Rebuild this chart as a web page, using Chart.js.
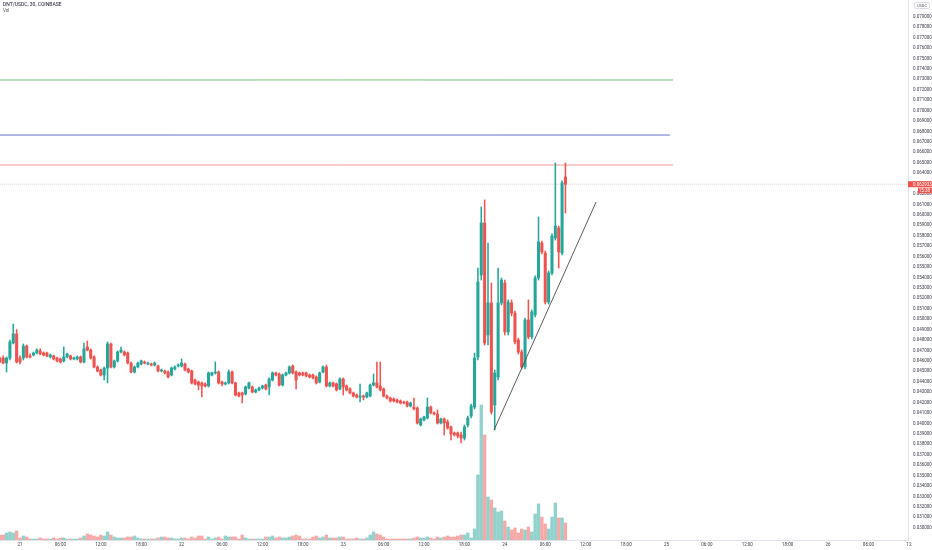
<!DOCTYPE html>
<html>
<head>
<meta charset="utf-8">
<title>DNT/USDC, 30, COINBASE</title>
<script src="https://cdn.jsdelivr.net/npm/chart.js@4.4.1/dist/chart.umd.min.js"></script>
<style>
  html, body { margin: 0; padding: 0; background: #ffffff; }
  #wrap { position: relative; width: 932px; height: 550px; }
</style>
</head>
<body>
<div id="wrap"><canvas id="chart"></canvas></div>
<script>
// 30 minute bars, bar 0 = 21st 00:00, first bar shown is -6 (20th 21:00)
const firstBar = -6;

const opens = [
  0.04627, 0.04627, 0.04579, 0.04627, 0.04771, 0.04858,
  0.04627, 0.04627, 0.04742, 0.04647, 0.04656, 0.04675, 0.04695, 0.04675, 0.04675, 0.04637,
  0.04647, 0.04627, 0.04618, 0.04599, 0.04637, 0.04647, 0.04618, 0.04618, 0.04637, 0.04589,
  0.04733, 0.04704, 0.04637, 0.04541, 0.04512, 0.04464, 0.04531, 0.04762, 0.04541, 0.04599,
  0.04685, 0.04685, 0.04675, 0.04579, 0.04493, 0.04541, 0.04570, 0.04589, 0.04570, 0.04570,
  0.04560, 0.04551, 0.04503, 0.04503, 0.04493, 0.04464, 0.04522, 0.04551, 0.04551, 0.04570,
  0.04522, 0.04503, 0.04416, 0.04397, 0.04388, 0.04378, 0.04359, 0.04464, 0.04484, 0.04493,
  0.04397, 0.04378, 0.04388, 0.04493, 0.04388, 0.04292, 0.04292, 0.04282, 0.04340, 0.04349,
  0.04301, 0.04321, 0.04340, 0.04368, 0.04349, 0.04416, 0.04484, 0.04474, 0.04368, 0.04464,
  0.04484, 0.04551, 0.04493, 0.04484, 0.04484, 0.04484, 0.04464, 0.04464, 0.04445, 0.04397,
  0.04493, 0.04541, 0.04359, 0.04388, 0.04378, 0.04330, 0.04426, 0.04359, 0.04330, 0.04292,
  0.04273, 0.04253, 0.04263, 0.04253, 0.04263, 0.04368, 0.04388, 0.04359, 0.04330, 0.04263,
  0.04244, 0.04234, 0.04225, 0.04215, 0.04205, 0.04205, 0.04167, 0.04157, 0.04148, 0.03985,
  0.04033, 0.04052, 0.04157, 0.04100, 0.04090, 0.04004, 0.04042, 0.04014, 0.03966, 0.03908,
  0.03908, 0.03889, 0.03860, 0.03985, 0.04071, 0.04157, 0.04637, 0.05423, 0.05922, 0.04848,
  0.05155, 0.04177, 0.04445, 0.05155, 0.05347, 0.04877, 0.05155, 0.05059, 0.04800, 0.04685,
  0.04541, 0.04992, 0.04829, 0.05040, 0.05395, 0.05730, 0.05634, 0.05164, 0.05443, 0.05778,
  0.05874, 0.05634, 0.06363
];

const highs = [
  0.04637, 0.04647, 0.04637, 0.04800, 0.04953, 0.04900,
  0.04647, 0.04762, 0.04752, 0.04666, 0.04685, 0.04714, 0.04714, 0.04685, 0.04685, 0.04666,
  0.04656, 0.04637, 0.04627, 0.04733, 0.04675, 0.04656, 0.04637, 0.04647, 0.04647, 0.04771,
  0.04790, 0.04714, 0.04647, 0.04551, 0.04522, 0.04541, 0.04781, 0.04771, 0.04608, 0.04695,
  0.04733, 0.04695, 0.04685, 0.04589, 0.04551, 0.04589, 0.04608, 0.04599, 0.04589, 0.04579,
  0.04589, 0.04560, 0.04522, 0.04512, 0.04503, 0.04541, 0.04551, 0.04570, 0.04618, 0.04579,
  0.04531, 0.04512, 0.04426, 0.04407, 0.04397, 0.04388, 0.04493, 0.04493, 0.04589, 0.04503,
  0.04407, 0.04397, 0.04512, 0.04503, 0.04397, 0.04301, 0.04301, 0.04359, 0.04397, 0.04359,
  0.04330, 0.04349, 0.04368, 0.04378, 0.04436, 0.04493, 0.04493, 0.04484, 0.04474, 0.04493,
  0.04551, 0.04560, 0.04503, 0.04493, 0.04493, 0.04493, 0.04474, 0.04474, 0.04455, 0.04493,
  0.04551, 0.04560, 0.04397, 0.04397, 0.04388, 0.04436, 0.04436, 0.04368, 0.04340, 0.04301,
  0.04282, 0.04378, 0.04273, 0.04301, 0.04378, 0.04474, 0.04589, 0.04589, 0.04340, 0.04273,
  0.04253, 0.04244, 0.04234, 0.04225, 0.04215, 0.04215, 0.04205, 0.04244, 0.04157, 0.04052,
  0.04071, 0.04244, 0.04167, 0.04110, 0.04129, 0.04052, 0.04052, 0.04033, 0.03975, 0.03918,
  0.03918, 0.03918, 0.03985, 0.04071, 0.04186, 0.04675, 0.05490, 0.06076, 0.06143, 0.05730,
  0.05347, 0.04512, 0.05490, 0.05395, 0.05375, 0.05184, 0.05184, 0.05078, 0.04819, 0.04704,
  0.05011, 0.05184, 0.05088, 0.05414, 0.05980, 0.05749, 0.05654, 0.05462, 0.05817, 0.06497,
  0.05893, 0.06325, 0.06497
];

const lows = [
  0.04579, 0.04570, 0.04493, 0.04608, 0.04762, 0.04579,
  0.04570, 0.04608, 0.04627, 0.04627, 0.04647, 0.04666, 0.04656, 0.04647, 0.04637, 0.04627,
  0.04608, 0.04589, 0.04579, 0.04589, 0.04627, 0.04608, 0.04608, 0.04608, 0.04579, 0.04579,
  0.04695, 0.04618, 0.04531, 0.04493, 0.04455, 0.04416, 0.04388, 0.04531, 0.04531, 0.04589,
  0.04675, 0.04647, 0.04570, 0.04484, 0.04484, 0.04531, 0.04560, 0.04570, 0.04560, 0.04551,
  0.04551, 0.04493, 0.04493, 0.04474, 0.04436, 0.04455, 0.04512, 0.04541, 0.04541, 0.04503,
  0.04484, 0.04378, 0.04368, 0.04321, 0.04253, 0.04349, 0.04349, 0.04455, 0.04474, 0.04378,
  0.04359, 0.04368, 0.04378, 0.04378, 0.04263, 0.04253, 0.04196, 0.04273, 0.04330, 0.04292,
  0.04292, 0.04311, 0.04330, 0.04321, 0.04273, 0.04407, 0.04455, 0.04359, 0.04359, 0.04455,
  0.04474, 0.04474, 0.04330, 0.04455, 0.04455, 0.04445, 0.04436, 0.04426, 0.04378, 0.04388,
  0.04484, 0.04349, 0.04349, 0.04349, 0.04311, 0.04321, 0.04273, 0.04311, 0.04282, 0.04253,
  0.04244, 0.04205, 0.04225, 0.04244, 0.04253, 0.04359, 0.04340, 0.04311, 0.04253, 0.04234,
  0.04205, 0.04205, 0.04196, 0.04186, 0.04186, 0.04157, 0.04157, 0.04129, 0.03994, 0.03975,
  0.04023, 0.04042, 0.04090, 0.04081, 0.03994, 0.03994, 0.03889, 0.03946, 0.03841, 0.03879,
  0.03860, 0.03812, 0.03841, 0.03966, 0.04052, 0.04138, 0.04608, 0.05375, 0.04752, 0.04752,
  0.04090, 0.03937, 0.04416, 0.05136, 0.04848, 0.04848, 0.05030, 0.04762, 0.04666, 0.04522,
  0.04522, 0.04810, 0.04810, 0.05021, 0.05375, 0.05625, 0.05145, 0.05145, 0.05423, 0.05759,
  0.05490, 0.05615, 0.06018
];

const closes = [
  0.04589, 0.04579, 0.04627, 0.04781, 0.04858, 0.04589,
  0.04589, 0.04742, 0.04637, 0.04637, 0.04675, 0.04704, 0.04666, 0.04656, 0.04647, 0.04656,
  0.04618, 0.04599, 0.04589, 0.04637, 0.04666, 0.04618, 0.04627, 0.04637, 0.04589, 0.04714,
  0.04704, 0.04627, 0.04541, 0.04503, 0.04464, 0.04531, 0.04762, 0.04541, 0.04599, 0.04685,
  0.04704, 0.04656, 0.04579, 0.04493, 0.04541, 0.04579, 0.04599, 0.04579, 0.04579, 0.04560,
  0.04579, 0.04503, 0.04512, 0.04484, 0.04445, 0.04531, 0.04541, 0.04560, 0.04579, 0.04512,
  0.04493, 0.04388, 0.04378, 0.04368, 0.04359, 0.04359, 0.04484, 0.04484, 0.04493, 0.04388,
  0.04378, 0.04388, 0.04493, 0.04388, 0.04273, 0.04263, 0.04273, 0.04349, 0.04388, 0.04301,
  0.04321, 0.04340, 0.04359, 0.04330, 0.04426, 0.04484, 0.04464, 0.04368, 0.04464, 0.04484,
  0.04541, 0.04484, 0.04416, 0.04464, 0.04464, 0.04455, 0.04445, 0.04436, 0.04388, 0.04484,
  0.04541, 0.04359, 0.04388, 0.04359, 0.04321, 0.04426, 0.04349, 0.04321, 0.04292, 0.04263,
  0.04253, 0.04263, 0.04253, 0.04292, 0.04368, 0.04388, 0.04349, 0.04321, 0.04263, 0.04244,
  0.04215, 0.04215, 0.04205, 0.04196, 0.04196, 0.04167, 0.04196, 0.04138, 0.04004, 0.04042,
  0.04062, 0.04157, 0.04100, 0.04090, 0.04004, 0.04042, 0.04004, 0.03956, 0.03899, 0.03889,
  0.03879, 0.03860, 0.03966, 0.04052, 0.04167, 0.04627, 0.05356, 0.05922, 0.04771, 0.05155,
  0.04110, 0.04484, 0.05155, 0.05375, 0.04877, 0.05164, 0.05059, 0.04781, 0.04685, 0.04541,
  0.04992, 0.04829, 0.05069, 0.05395, 0.05740, 0.05644, 0.05164, 0.05443, 0.05797, 0.05893,
  0.05644, 0.06306, 0.062933
];

// volume in thousands of DNT (relative heights)
const volumes = [
  5, 5, 7, 8, 7, 9,
  2, 4, 3, 1, 1, 1, 2, 1, 1, 1, 2,
  1, 2, 2, 1, 1, 1, 1, 2, 4, 6,
  5, 4, 3, 5, 4, 8, 5, 3, 2, 2,
  2, 3, 3, 4, 2, 1, 1, 1, 1, 1, 2,
  3, 3, 2, 2, 1, 1, 2, 2, 1, 3, 2, 4, 4, 1,
  3, 1, 2, 3, 1, 4, 3, 3, 3, 1, 5, 2, 1, 1, 1,
  1, 1, 3, 3, 4, 2, 3, 2, 2, 3, 4, 5, 4, 1, 1, 1, 3, 4, 2,
  3, 5, 2, 2, 2, 3, 3, 1, 1, 1, 2, 1, 1, 2, 5,
  8, 6, 5, 3, 1, 1, 1, 1, 1, 1, 1, 1, 2, 3,
  2, 2, 3, 2, 1, 3, 2, 3, 4, 3, 3, 4,
  5, 5, 7, 2, 11, 65, 135, 105, 43, 40, 32, 28, 29, 19, 13, 10,
  12, 7, 11, 10, 13, 8, 26, 36, 23, 16, 11, 23, 37, 22, 22, 17
];

// time axis: bar index of each label
const timeTickIdx = [0, 12, 24, 36, 48, 60, 72, 84, 96, 108, 120, 132,
  144, 156, 168, 180, 192, 204, 216, 228, 240, 252, 264];
const timeTickLabels = ['21', '06:00', '12:00', '18:00', '22', '06:00', '12:00', '18:00',
  '23', '06:00', '12:00', '18:00', '24', '06:00', '12:00', '18:00',
  '25', '06:00', '12:00', '18:00', '26', '06:00', '12'];

const priceTicks = [
  0.030, 0.031, 0.032, 0.033, 0.034, 0.035, 0.036, 0.037, 0.038, 0.039,
  0.040, 0.041, 0.042, 0.043, 0.044, 0.045, 0.046, 0.047, 0.048, 0.049,
  0.050, 0.051, 0.052, 0.053, 0.054, 0.055, 0.056, 0.057, 0.058, 0.059,
  0.060, 0.061, 0.062, 0.063, 0.064, 0.065, 0.066, 0.067, 0.068, 0.069,
  0.070, 0.071, 0.072, 0.073, 0.074, 0.075, 0.076, 0.077, 0.078, 0.079
];

// drawn horizontal levels (price, last bar they reach)
const levelPrices = [0.07293, 0.06765, 0.06478];
const levelEnds = [194, 193, 194];
const levelColors = ['#72c57a', '#6570cc', '#f19a9a'];

// rising trend line drawn under the lows
const trendX = [140.8, 171.1];
const trendY = [0.03937, 0.06123];

const lastPrice = '0.062933';
const countdown = '15:38';

const UP = '#26a69a';
const DOWN = '#ef5350';
const UP_VOL = 'rgba(38, 166, 154, 0.5)';
const DOWN_VOL = 'rgba(239, 83, 80, 0.5)';
const FONT = 'Roboto, "Noto Sans", sans-serif';
const TEXT = '#3e414b';

// Build datasets from the arrays
const barX = opens.map((o, k) => firstBar + k);
const isUp = closes.map((c, k) => c >= opens[k]);
const bodies = opens.map((o, k) => ({ x: barX[k], y: [o, closes[k]] }));
const wicks = highs.map((h, k) => ({ x: barX[k], y: [lows[k], h] }));
const vols = volumes.map((v, k) => ({ x: barX[k], y: v }));
const candleColors = isUp.map(u => u ? UP : DOWN);
const volColors = isUp.map(u => u ? UP_VOL : DOWN_VOL);

const levelSets = levelPrices.map((p, k) => ({
    type: 'line',
    data: [{ x: firstBar, y: p }, { x: levelEnds[k], y: p }],
    borderColor: levelColors[k],
    borderWidth: 1,
    pointRadius: 0,
    order: 2
}));

const lastClose = closes[closes.length - 1];

// Text overlays: symbol title, currency box and last price badge
const overlay = {
    id: 'overlay',
    afterDraw(chart) {
        const ctx = chart.ctx;
        const yScale = chart.scales.y;
        const area = chart.chartArea;
        ctx.save();
        ctx.textBaseline = 'middle';
        ctx.textAlign = 'left';
        ctx.fillStyle = '#131722';
        ctx.font = '5px ' + FONT;
        ctx.fillText('DNT/USDC, 30, COINBASE', 3, 5);
        ctx.fillStyle = '#50535e';
        ctx.font = '4.5px ' + FONT;
        ctx.fillText('Vol', 3, 10.5);

        // currency box
        ctx.strokeStyle = '#c5c8d0';
        ctx.lineWidth = 0.6;
        ctx.beginPath();
        ctx.roundRect(914.5, 2.5, 15, 6, 1.5);
        ctx.stroke();
        ctx.fillStyle = '#50535e';
        ctx.font = '4px ' + FONT;
        ctx.textAlign = 'center';
        ctx.fillText('USDC', 922, 5.6);

        // last price badge + countdown
        const py = yScale.getPixelForValue(lastClose);
        ctx.fillStyle = DOWN;
        ctx.fillRect(area.right, py - 3, 932 - area.right, 6);
        ctx.fillRect(918, py + 3.5, 14, 5.5);
        ctx.fillStyle = '#ffffff';
        ctx.font = '4.5px ' + FONT;
        ctx.textAlign = 'left';
        ctx.fillText(lastPrice, area.right + 5, py + 0.2);
        ctx.textAlign = 'right';
        ctx.fillText(countdown, 930, py + 6.3);
        ctx.restore();
    }
};

const ctx = document.getElementById('chart').getContext('2d');

new Chart(ctx, {
    type: 'bar',
    data: {
        datasets: [
            {
                // trend line
                type: 'line',
                data: trendX.map((x, k) => ({ x: x, y: trendY[k] })),
                borderColor: '#4a4a4a',
                borderWidth: 0.9,
                pointRadius: 0,
                order: -1
            },
            {
                // candle bodies
                data: bodies,
                backgroundColor: candleColors,
                barThickness: 2.4,
                minBarLength: 0.8,
                grouped: false,
                order: 0
            },
            {
                // wicks
                data: wicks,
                backgroundColor: candleColors,
                barThickness: 0.9,
                grouped: false,
                order: 1
            },
            {
                // last price line
                type: 'line',
                data: [{ x: firstBar, y: lastClose }, { x: 270, y: lastClose }],
                borderColor: 'rgba(180, 180, 186, 0.8)',
                borderWidth: 0.8,
                borderDash: [1, 1],
                pointRadius: 0,
                order: 2
            },
            ...levelSets,
            {
                // volume
                data: vols,
                yAxisID: 'yv',
                backgroundColor: volColors,
                barThickness: 2.7,
                grouped: false,
                order: 3
            }
        ]
    },
    options: {
        responsive: true,
        maintainAspectRatio: false,
        animation: false,
        layout: { padding: 0 },
        plugins: {
            legend: { display: false },
            tooltip: { enabled: false },
            title: { display: false }
        },
        scales: {
            x: {
                type: 'linear',
                min: -5.94,
                max: 263.74,
                offset: false,
                grid: { display: false, drawTicks: false, tickLength: 0 },
                border: { display: true, color: '#e0e3eb', width: 1 },
                afterBuildTicks: (scale) => {
                    scale.ticks = timeTickIdx.map(v => ({ value: v }));
                },
                afterFit: (scale) => {
                    scale.height = 10;
                    scale.paddingLeft = 0;
                    scale.paddingRight = 0;
                },
                ticks: {
                    autoSkip: false,
                    maxRotation: 0,
                    padding: 2.5,
                    color: TEXT,
                    font: { family: FONT, size: 4.5 },
                    callback: (value) => timeTickLabels[timeTickIdx.indexOf(value)]
                }
            },
            y: {
                type: 'linear',
                position: 'right',
                min: 0.02882,
                max: 0.08060,
                grid: { display: false, drawTicks: false, tickLength: 0 },
                border: { display: true, color: '#e0e3eb', width: 1 },
                afterBuildTicks: (scale) => {
                    scale.ticks = priceTicks.map(v => ({ value: v }));
                },
                afterFit: (scale) => {
                    scale.width = 24;
                    scale.paddingTop = 0;
                    scale.paddingBottom = 0;
                },
                ticks: {
                    padding: 5,
                    crossAlign: 'near',
                    color: TEXT,
                    font: { family: FONT, size: 4.5 },
                    callback: (value) => value.toFixed(6)
                }
            },
            yv: {
                type: 'linear',
                display: false,
                min: 0,
                max: 540
            }
        }
    },
    plugins: [overlay]
});
</script>
</body>
</html>
